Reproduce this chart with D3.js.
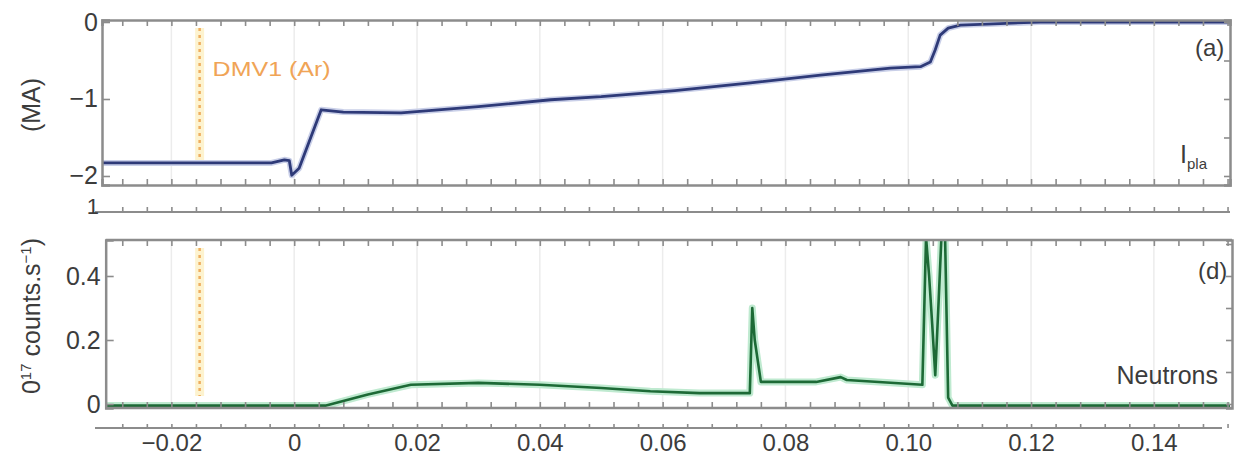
<!DOCTYPE html>
<html><head><meta charset="utf-8">
<script src="https://cdn.jsdelivr.net/npm/d3@7"></script>
<style>html,body{margin:0;padding:0;background:#fff;} svg{display:block;font-family:"Liberation Sans",Arial,sans-serif;}</style>
</head><body>
<svg id="chart" width="1234" height="462"></svg>
<script>
// ---- data ----
const ipTime  = [-0.0313, -0.0037, -0.0016, -0.0008, -0.0004, 0.0008, 0.0044, 0.0080, 0.0174, 0.0300, 0.0418, 0.0500, 0.0620, 0.0743, 0.0857, 0.0971, 0.1020, 0.1036, 0.1044, 0.1052, 0.1065, 0.1085, 0.1150, 0.1215, 0.1524];
const ipValue = [-1.83, -1.83, -1.79, -1.80, -1.99, -1.90, -1.14, -1.17, -1.18, -1.10, -1.01, -0.97, -0.89, -0.79, -0.69, -0.60, -0.58, -0.52, -0.36, -0.17, -0.08, -0.04, -0.02, 0.00, 0.00];

const nTime  = [-0.0307, 0.0052, 0.0120, 0.0190, 0.0300, 0.0400, 0.0500, 0.0580, 0.0660, 0.0742, 0.0746, 0.0750, 0.0760, 0.0850, 0.0890, 0.0900, 0.1023, 0.1029, 0.1034, 0.1039, 0.1044, 0.1049, 0.1054, 0.1060, 0.1065, 0.1072, 0.1524];
const nValue = [-0.005, -0.005, 0.030, 0.060, 0.066, 0.060, 0.050, 0.040, 0.034, 0.034, 0.300, 0.200, 0.069, 0.069, 0.084, 0.075, 0.060, 0.520, 0.400, 0.250, 0.090, 0.300, 0.520, 0.520, 0.020, -0.005, -0.005];

const markerTime = [-0.0154];
const markerLabel = "DMV1 (Ar)";

const xTickValues = [-0.02, 0, 0.02, 0.04, 0.06, 0.08, 0.10, 0.12, 0.14];
const xTickLabels = ["−0.02", "0", "0.02", "0.04", "0.06", "0.08", "0.10", "0.12", "0.14"];
const ipTickValues = [0, -1, -2];
const ipTickLabels = ["0", "−1", "−2"];
const nTickValues = [0, 0.2, 0.4];
const nTickLabels = ["0", "0.2", "0.4"];
const stripTickLabels = ["1"];

// ---- layout ----
const svg = d3.select("#chart");
const x = d3.scaleLinear().domain([-0.0313, 0.1524]).range([102, 1230]);
const yTop = d3.scaleLinear().domain([-2.117, 0.026]).range([185, 20]);
const yBot = d3.scaleLinear().domain([-0.0125, 0.5125]).range([408, 240]);
const minorTicks = d3.range(-0.028, 0.1525, 0.004);
const frame = "#8c8c8c";
const textCol = "#3c3c3c";

function styleAxis(g, w) {
  g.select(".domain").attr("stroke", frame).attr("stroke-width", w);
  g.selectAll(".tick line").attr("stroke", frame).attr("stroke-width", 1.6);
  g.selectAll("text").attr("fill", textCol).style("font-size", "25px");
}

// clip paths
const defs = svg.append("defs");
defs.append("clipPath").attr("id", "clipTop").append("rect")
  .attr("x", x(-0.0313)).attr("y", 20).attr("width", 1230 - x(-0.0313)).attr("height", 165);
const botLeft = x(-0.0307);
defs.append("clipPath").attr("id", "clipBot").append("rect")
  .attr("x", botLeft).attr("y", 240).attr("width", 1230 - botLeft).attr("height", 168);

// gridlines
[[20, 185], [240, 408]].forEach(([y0, y1]) => {
  svg.append("g").selectAll("line").data(xTickValues).join("line")
    .attr("x1", d => x(d)).attr("x2", d => x(d)).attr("y1", y0).attr("y2", y1)
    .attr("stroke", "#ececec").attr("stroke-width", 1.5);
});

// marker lines
[[28, 160], [248, 396]].forEach(([y0, y1]) => {
  const g = svg.append("g");
  g.selectAll("line.halo").data(markerTime).join("line").attr("class", "halo")
    .attr("x1", d => x(d)).attr("x2", d => x(d)).attr("y1", y0).attr("y2", y1)
    .attr("stroke", "#fdf3cf").attr("stroke-width", 9);
  g.selectAll("line.m").data(markerTime).join("line").attr("class", "m")
    .attr("x1", d => x(d)).attr("x2", d => x(d)).attr("y1", y0).attr("y2", y1)
    .attr("stroke", "#efae60").attr("stroke-width", 2.5).attr("stroke-dasharray", "3,4");
});
svg.append("text").attr("x", x(markerTime[0]) + 13).attr("y", 76)
  .attr("fill", "#f0a456").style("font-size", "21px")
  .attr("textLength", 118).attr("lengthAdjust", "spacingAndGlyphs").text(markerLabel);

// ---- top panel ----
const ipData = ipTime.map((t, i) => [t, ipValue[i]]);
const ipLine = d3.line().x(d => x(d[0])).y(d => yTop(d[1]));
const gTop = svg.append("g").attr("clip-path", "url(#clipTop)");
gTop.append("path").datum(ipData).attr("d", ipLine).attr("fill", "none")
  .attr("stroke", "#c9cfe8").attr("stroke-width", 6).attr("stroke-linejoin", "round");
gTop.append("path").datum(ipData).attr("d", ipLine).attr("fill", "none")
  .attr("stroke", "#2e3a78").attr("stroke-width", 2.8).attr("stroke-linejoin", "round");

// top panel axes
const topLeft = x(-0.0313);
svg.append("g").attr("transform", `translate(${topLeft},0)`)
  .call(d3.axisLeft(yTop).tickValues(ipTickValues).tickFormat((d, i) => ipTickLabels[i]).tickSize(-8).tickPadding(4))
  .call(g => styleAxis(g, 2.5))
  .call(g => g.selectAll(".tick text").attr("x", -4));
svg.append("g").attr("transform", "translate(1230,0)")
  .call(d3.axisRight(yTop).tickValues(d3.range(-2, 0.01, 0.5)).tickFormat("").tickSize(-6))
  .call(g => styleAxis(g, 2.5));
svg.append("g").attr("transform", "translate(0,20)")
  .call(d3.axisTop(x).tickValues(minorTicks).tickFormat("").tickSize(-6))
  .call(g => styleAxis(g, 2.5));
svg.append("g").attr("transform", "translate(0,185)")
  .call(d3.axisBottom(x).tickValues(minorTicks).tickFormat("").tickSize(-6))
  .call(g => styleAxis(g, 2.5));

svg.append("text").attr("transform", "translate(40,105) rotate(-90)")
  .attr("text-anchor", "middle").attr("fill", textCol).style("font-size", "25px").text("(MA)");
svg.append("text").attr("x", 1195).attr("y", 56).attr("fill", textCol).style("font-size", "24px").text("(a)");
const ipl = svg.append("text").attr("x", 1180).attr("y", 163).attr("fill", textCol).style("font-size", "25px");
ipl.append("tspan").text("I");
ipl.append("tspan").attr("dy", 6).style("font-size", "15px").text("pla");

// strip axis (partial panel above)
svg.append("g").attr("transform", "translate(0,212)")
  .call(d3.axisBottom(x).tickValues(minorTicks).tickFormat("").tickSize(-5))
  .call(g => styleAxis(g, 2.2))
  .call(g => g.select(".domain").attr("d", `M95,0H1230`));
svg.append("text").attr("x", 99).attr("y", 214).attr("text-anchor", "end")
  .attr("fill", textCol).style("font-size", "22px").text(stripTickLabels[0]);

// ---- bottom panel ----
const nData = nTime.map((t, i) => [t, nValue[i]]);
const nLine = d3.line().x(d => x(d[0])).y(d => yBot(d[1]));
const gBot = svg.append("g").attr("clip-path", "url(#clipBot)");
gBot.append("path").datum(nData).attr("d", nLine).attr("fill", "none")
  .attr("stroke", "#bfead0").attr("stroke-width", 7).attr("stroke-linejoin", "round");
gBot.append("path").datum(nData).attr("d", nLine).attr("fill", "none")
  .attr("stroke", "#1d6a36").attr("stroke-width", 2.6).attr("stroke-linejoin", "round");

svg.append("g").attr("transform", `translate(${botLeft},0)`)
  .call(d3.axisLeft(yBot).tickValues(nTickValues).tickFormat((d, i) => nTickLabels[i]).tickSize(-8).tickPadding(4))
  .call(g => styleAxis(g, 2.5))
  .call(g => g.selectAll(".tick text").attr("x", -5));
svg.append("g").attr("transform", "translate(1232,0)")
  .call(d3.axisRight(yBot).tickValues(d3.range(0, 0.51, 0.1)).tickFormat("").tickSize(-6))
  .call(g => styleAxis(g, 2.5));
svg.append("g").attr("transform", "translate(0,240)")
  .call(d3.axisTop(x).tickValues(minorTicks).tickFormat("").tickSize(-6))
  .call(g => styleAxis(g, 2.5))
  .call(g => g.select(".domain").attr("d", `M${botLeft},0H1232`));
svg.append("g").attr("transform", "translate(0,408)")
  .call(d3.axisBottom(x).tickValues(minorTicks).tickFormat("").tickSize(-6))
  .call(g => styleAxis(g, 2.5))
  .call(g => g.select(".domain").attr("d", `M${botLeft},0H1232`));

const yl = svg.append("text").attr("transform", "translate(40,316) rotate(-90)")
  .attr("text-anchor", "middle").attr("fill", textCol).style("font-size", "25px");
yl.append("tspan").text("0");
yl.append("tspan").attr("dy", -9).style("font-size", "15px").text("17");
yl.append("tspan").attr("dy", 9).text(" counts.s");
yl.append("tspan").attr("dy", -9).style("font-size", "15px").text("−1");
yl.append("tspan").attr("dy", 9).text(")");

svg.append("text").attr("x", 1198).attr("y", 279).attr("fill", textCol).style("font-size", "24px").text("(d)");
svg.append("text").attr("x", 1218).attr("y", 384).attr("text-anchor", "end").attr("fill", textCol).style("font-size", "25px").text("Neutrons");

// ---- bottom x axis ----
svg.append("g").attr("transform", "translate(0,428)")
  .call(d3.axisBottom(x).tickValues(minorTicks).tickFormat("").tickSize(-4))
  .call(g => styleAxis(g, 2))
  .call(g => g.select(".domain").attr("d", "M95,0H1222"));
svg.append("g").attr("transform", "translate(0,428)")
  .call(d3.axisBottom(x).tickValues(xTickValues).tickFormat((d, i) => xTickLabels[i]).tickSize(0).tickPadding(6))
  .call(g => styleAxis(g, 0))
  .call(g => g.select(".domain").remove())
  .call(g => g.selectAll("text").style("font-size", "24px"));
</script>
</body></html>
